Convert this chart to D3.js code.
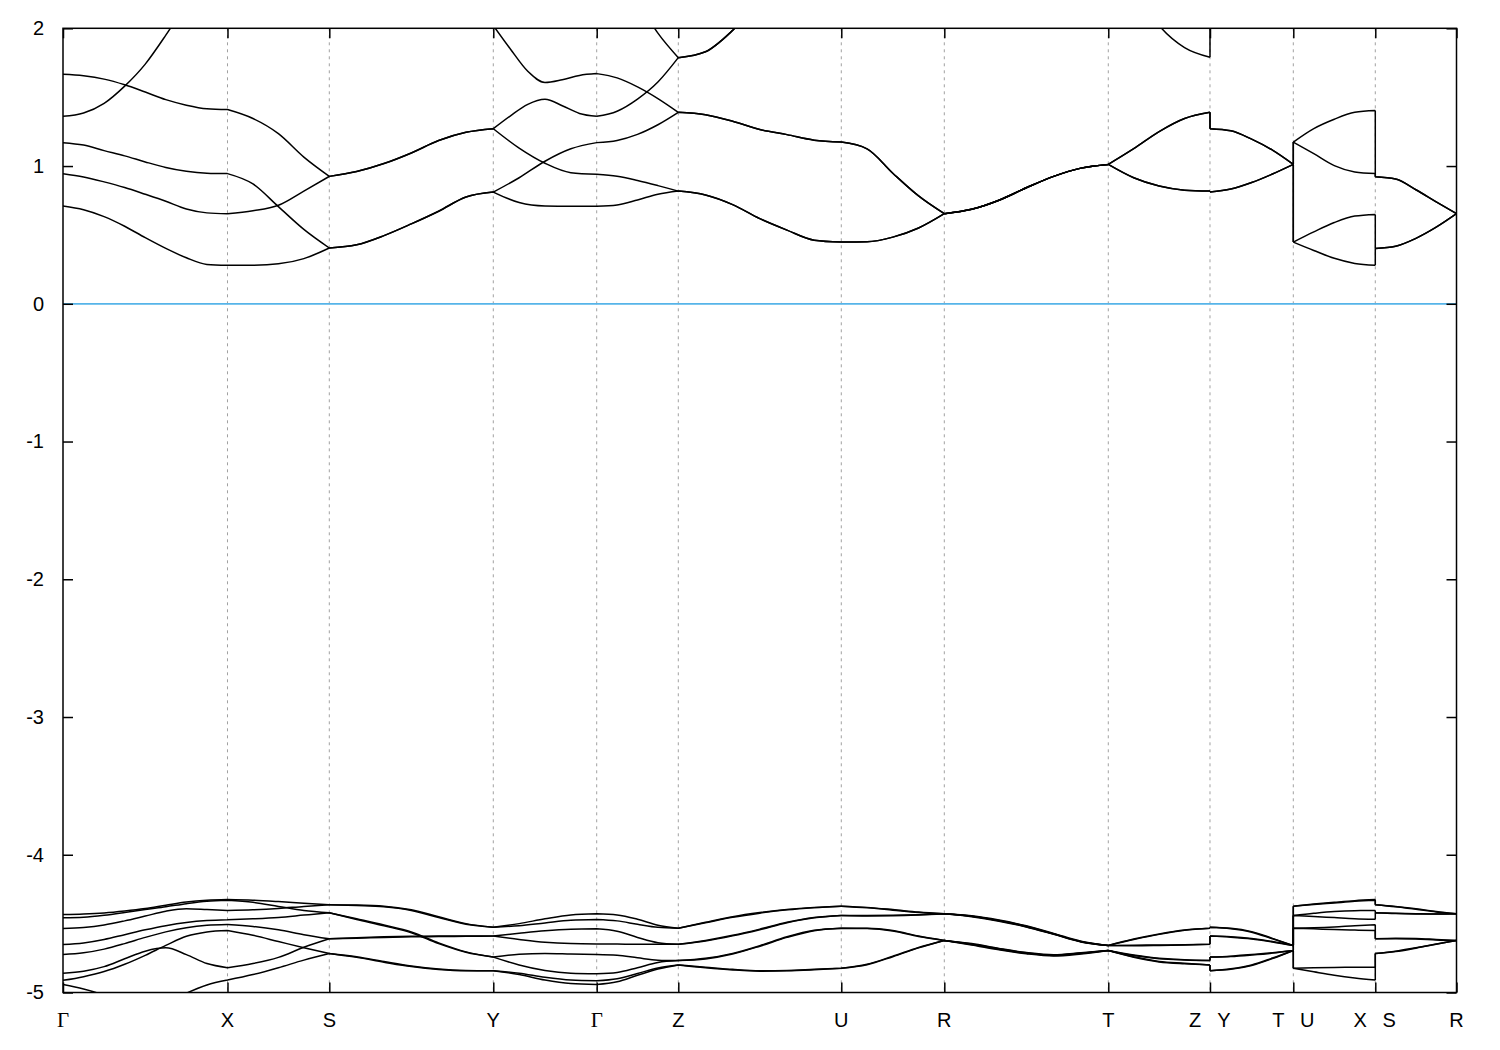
<!DOCTYPE html>
<html><head><meta charset="utf-8">
<script src="https://cdn.jsdelivr.net/npm/d3@7"></script>
<style>html,body{margin:0;padding:0;background:#fff;} svg{display:block;}</style>
</head><body>
<svg id="chart" width="1500" height="1050"></svg>
<script>
// high-symmetry points: cumulative k-path distance
const kTicks  = [0, 0.5483, 0.8877, 1.4343, 1.779, 2.051, 2.5943, 2.9377, 3.4843, 3.8233, 4.101, 4.3743, 4.645];
const kLabels = ["Γ","X","S","Y","Γ","Z","U","R","T","Z|Y","T|U","X|S","R"];
const yTicks  = [2, 1, 0, -1, -2, -3, -4, -5];
const eFermi  = 0;

// Each band: 12 path segments, energies (eV) sampled evenly along each segment
// segments: Γ-X, X-S, S-Y, Y-Γ, Γ-Z, Z-U, U-R, R-T, T-Z, Y-T, U-X, S-R
const c1 = [
 [0.710,0.683,0.633,0.563,0.480,0.402,0.334,0.286,0.279],
 [0.279,0.280,0.290,0.328,0.405],
 [0.405,0.428,0.495,0.580,0.672,0.775,0.811],
 [0.811,0.735,0.710,0.708,0.708],
 [0.708,0.718,0.754,0.795,0.818],
 [0.818,0.790,0.720,0.618,0.535,0.462,0.448],
 [0.448,0.450,0.484,0.550,0.654],
 [0.654,0.686,0.752,0.842,0.925,0.985,1.012],
 [1.012,0.915,0.855,0.825,0.818],
 [0.811,0.833,0.880,0.942,1.012],
 [0.448,0.387,0.330,0.293,0.279],
 [0.402,0.418,0.475,0.556,0.654]
];
const c2 = [
 [0.945,0.921,0.885,0.844,0.795,0.744,0.688,0.660,0.654],
 [0.654,0.675,0.715,0.818,0.925],
 [0.925,0.960,1.018,1.095,1.185,1.245,1.271],
 [1.271,1.130,1.020,0.952,0.940],
 [0.940,0.926,0.895,0.858,0.818],
 [0.818,0.790,0.720,0.618,0.535,0.462,0.448],
 [0.448,0.450,0.484,0.550,0.654],
 [0.654,0.686,0.752,0.842,0.925,0.985,1.012],
 [1.012,0.915,0.855,0.825,0.818],
 [0.811,0.833,0.880,0.942,1.012],
 [0.448,0.522,0.590,0.637,0.649],
 [0.402,0.418,0.475,0.556,0.654]
];
const c3 = [
 [1.170,1.152,1.112,1.074,1.030,0.990,0.962,0.948,0.945],
 [0.945,0.870,0.705,0.540,0.405],
 [0.405,0.428,0.495,0.580,0.672,0.775,0.811],
 [0.811,0.915,1.035,1.125,1.170],
 [1.170,1.186,1.230,1.300,1.390],
 [1.390,1.372,1.325,1.265,1.228,1.188,1.174],
 [1.174,1.125,0.948,0.783,0.654],
 [0.654,0.686,0.752,0.842,0.925,0.985,1.012],
 [1.012,1.126,1.250,1.345,1.390],
 [1.271,1.256,1.195,1.115,1.012],
 [1.174,1.090,1.003,0.957,0.945],
 [0.922,0.906,0.828,0.740,0.654]
];
const c4 = [
 [1.666,1.655,1.631,1.590,1.537,1.482,1.442,1.416,1.410],
 [1.410,1.345,1.235,1.065,0.925],
 [0.925,0.960,1.018,1.095,1.185,1.245,1.271],
 [1.271,1.365,1.448,1.485,1.438,1.382,1.361],
 [1.361,1.398,1.486,1.610,1.787],
 [1.787,1.830,1.985,2.200,null,null,null],
 [],[],[],[],[],[]
];
const c5 = [
 [1.361,1.385,1.455,1.580,1.740,1.950,2.180,null,null],
 [],
 [],
 [2.020,1.848,1.688,1.607,1.627,1.658,1.671],
 [1.671,1.640,1.575,1.490,1.390],
 [1.390,1.372,1.325,1.265,1.228,1.188,1.174],
 [1.174,1.125,0.948,0.783,0.654],
 [0.654,0.686,0.752,0.842,0.925,0.985,1.012],
 [1.012,1.126,1.250,1.345,1.390],
 [1.271,1.256,1.195,1.115,1.012],
 [1.174,1.272,1.340,1.390,1.404],
 [0.922,0.906,0.828,0.740,0.654]
];
const c6 = [
 [],[],[],[],
 [null,null,2.200,1.965,1.787],
 [1.787,1.830,1.985,2.200,null,null,null],
 [],[],
 [null,2.300,2.020,1.860,1.790],
 [2.300,null,null,null,null],
 [],[]
];
const v1 = [
 [-4.434,-4.430,-4.422,-4.408,-4.390,-4.366,-4.343,-4.330,-4.325],
 [-4.325,-4.330,-4.340,-4.352,-4.363],
 [-4.363,-4.365,-4.373,-4.400,-4.450,-4.500,-4.526],
 [-4.526,-4.500,-4.465,-4.437,-4.429],
 [-4.429,-4.437,-4.468,-4.512,-4.533],
 [-4.533,-4.490,-4.450,-4.420,-4.397,-4.382,-4.373],
 [-4.373,-4.382,-4.398,-4.416,-4.429],
 [-4.429,-4.446,-4.477,-4.519,-4.574,-4.630,-4.659],
 [-4.659,-4.612,-4.575,-4.546,-4.533],
 [-4.526,-4.533,-4.558,-4.607,-4.659],
 [-4.373,-4.358,-4.345,-4.333,-4.325],
 [-4.363,-4.375,-4.392,-4.412,-4.429]
];
const v2 = [
 [-4.458,-4.454,-4.440,-4.420,-4.398,-4.378,-4.355,-4.337,-4.330],
 [-4.330,-4.345,-4.375,-4.405,-4.421],
 [-4.421,-4.465,-4.510,-4.560,-4.640,-4.705,-4.743],
 [-4.743,-4.722,-4.716,-4.720,-4.724],
 [-4.724,-4.730,-4.748,-4.765,-4.768],
 [-4.768,-4.752,-4.716,-4.660,-4.595,-4.548,-4.533],
 [-4.533,-4.533,-4.550,-4.590,-4.622],
 [-4.622,-4.651,-4.686,-4.715,-4.731,-4.717,-4.695],
 [-4.695,-4.728,-4.752,-4.762,-4.768],
 [-4.743,-4.736,-4.725,-4.711,-4.695],
 [-4.533,-4.530,-4.524,-4.515,-4.508],
 [-4.610,-4.606,-4.608,-4.615,-4.622]
];
const v3 = [
 [-4.535,-4.528,-4.510,-4.480,-4.445,-4.410,-4.392,-4.398,-4.405],
 [-4.405,-4.400,-4.390,-4.375,-4.363],
 [-4.363,-4.369,-4.378,-4.405,-4.455,-4.504,-4.526],
 [-4.526,-4.515,-4.495,-4.476,-4.470],
 [-4.470,-4.480,-4.505,-4.527,-4.533],
 [-4.533,-4.494,-4.454,-4.424,-4.400,-4.384,-4.373],
 [-4.373,-4.385,-4.402,-4.419,-4.429],
 [-4.429,-4.450,-4.482,-4.524,-4.578,-4.633,-4.659],
 [-4.659,-4.616,-4.578,-4.548,-4.533],
 [-4.526,-4.537,-4.562,-4.610,-4.659],
 [-4.373,-4.362,-4.350,-4.338,-4.330],
 [-4.363,-4.378,-4.396,-4.415,-4.429]
];
const v4 = [
 [-4.652,-4.640,-4.615,-4.580,-4.545,-4.515,-4.492,-4.478,-4.472],
 [-4.472,-4.465,-4.455,-4.438,-4.421],
 [-4.421,-4.470,-4.516,-4.566,-4.645,-4.708,-4.743],
 [-4.743,-4.800,-4.840,-4.860,-4.864],
 [-4.864,-4.855,-4.820,-4.782,-4.768],
 [-4.768,-4.756,-4.720,-4.664,-4.600,-4.551,-4.533],
 [-4.533,-4.536,-4.554,-4.593,-4.622],
 [-4.622,-4.655,-4.690,-4.719,-4.735,-4.720,-4.695],
 [-4.695,-4.732,-4.755,-4.764,-4.768],
 [-4.743,-4.739,-4.728,-4.714,-4.695],
 [-4.533,-4.538,-4.543,-4.547,-4.550],
 [-4.610,-4.609,-4.611,-4.618,-4.622]
];
const v5 = [
 [-4.725,-4.712,-4.685,-4.645,-4.600,-4.560,-4.530,-4.512,-4.506],
 [-4.506,-4.520,-4.545,-4.580,-4.610],
 [-4.610,-4.606,-4.600,-4.596,-4.594,-4.592,-4.590],
 [-4.590,-4.570,-4.552,-4.541,-4.538],
 [-4.538,-4.555,-4.600,-4.638,-4.650],
 [-4.650,-4.622,-4.585,-4.540,-4.490,-4.455,-4.441],
 [-4.441,-4.441,-4.440,-4.436,-4.429],
 [-4.429,-4.443,-4.474,-4.516,-4.571,-4.628,-4.659],
 [-4.659,-4.657,-4.655,-4.653,-4.650],
 [-4.590,-4.595,-4.608,-4.630,-4.659],
 [-4.441,-4.425,-4.412,-4.406,-4.405],
 [-4.421,-4.425,-4.428,-4.430,-4.429]
];
const v6 = [
 [-4.860,-4.845,-4.812,-4.755,-4.700,-4.676,-4.725,-4.790,-4.820],
 [-4.820,-4.790,-4.745,-4.672,-4.610],
 [-4.610,-4.602,-4.596,-4.592,-4.590,-4.590,-4.590],
 [-4.590,-4.615,-4.636,-4.645,-4.647],
 [-4.647,-4.648,-4.650,-4.650,-4.650],
 [-4.650,-4.626,-4.589,-4.544,-4.494,-4.458,-4.441],
 [-4.441,-4.444,-4.443,-4.438,-4.429],
 [-4.429,-4.447,-4.480,-4.522,-4.576,-4.631,-4.659],
 [-4.659,-4.660,-4.658,-4.655,-4.650],
 [-4.590,-4.598,-4.611,-4.633,-4.659],
 [-4.441,-4.448,-4.456,-4.464,-4.468],
 [-4.421,-4.427,-4.430,-4.431,-4.429]
];
const v7 = [
 [-4.912,-4.885,-4.848,-4.795,-4.730,-4.658,-4.592,-4.560,-4.550],
 [-4.550,-4.585,-4.630,-4.675,-4.717],
 [-4.717,-4.740,-4.775,-4.808,-4.830,-4.840,-4.842],
 [-4.842,-4.860,-4.890,-4.910,-4.915],
 [-4.915,-4.900,-4.862,-4.822,-4.800],
 [-4.800,-4.816,-4.832,-4.842,-4.840,-4.832,-4.824],
 [-4.824,-4.795,-4.736,-4.673,-4.622],
 [-4.622,-4.648,-4.683,-4.712,-4.728,-4.714,-4.695],
 [-4.695,-4.740,-4.775,-4.788,-4.800],
 [-4.842,-4.828,-4.800,-4.750,-4.695],
 [-4.824,-4.820,-4.818,-4.817,-4.816],
 [-4.717,-4.700,-4.675,-4.648,-4.622]
];
const v8 = [
 [-4.942,-4.975,-5.020,-5.080,null,null,null,null,null],
 [],[],[],[],[],[],[],[],[],[],[]
];
const v9 = [
 [null,null,null,null,null,-5.080,-5.005,-4.945,-4.910],
 [-4.910,-4.870,-4.820,-4.765,-4.717],
 [-4.717,-4.745,-4.780,-4.812,-4.833,-4.842,-4.842],
 [-4.842,-4.870,-4.910,-4.935,-4.942],
 [-4.942,-4.922,-4.875,-4.830,-4.800],
 [-4.800,-4.820,-4.836,-4.845,-4.843,-4.835,-4.824],
 [-4.824,-4.798,-4.740,-4.676,-4.622],
 [-4.622,-4.645,-4.680,-4.710,-4.726,-4.712,-4.695],
 [-4.695,-4.744,-4.778,-4.792,-4.800],
 [-4.842,-4.832,-4.804,-4.754,-4.695],
 [-4.824,-4.850,-4.875,-4.895,-4.910],
 [-4.717,-4.703,-4.678,-4.650,-4.622]
];
const bands = [c1, c2, c3, c4, c5, c6, v1, v2, v3, v4, v5, v6, v7, v8, v9];

// ---------- drawing ----------
const W = 1500, H = 1050;
const margin = {left: 63, top: 28.3, right: 43.5, bottom: 57.5};
const svg = d3.select("#chart");
const x = d3.scaleLinear().domain([0, kTicks[kTicks.length - 1]]).range([margin.left, W - margin.right]);
const y = d3.scaleLinear().domain([-5, 2]).range([H - margin.bottom, margin.top]);
const sans = "'Liberation Sans', Arial, Helvetica, sans-serif";
const serif = "'Liberation Serif', 'Times New Roman', 'DejaVu Serif', serif";

svg.append("rect").attr("width", W).attr("height", H).attr("fill", "#fff");

svg.append("defs").append("clipPath").attr("id", "plotclip")
  .append("rect").attr("x", x.range()[0]).attr("y", y.range()[1])
  .attr("width", x.range()[1] - x.range()[0]).attr("height", y.range()[0] - y.range()[1]);

// dashed vertical grid at interior high-symmetry points
svg.append("g").selectAll("line").data(kTicks.slice(1, -1)).join("line")
  .attr("x1", d => x(d)).attr("x2", d => x(d))
  .attr("y1", y.range()[1]).attr("y2", y.range()[0])
  .attr("stroke", "#a0a0a0").attr("stroke-width", 1).attr("stroke-dasharray", "3,4");

// Fermi level line
svg.append("line")
  .attr("x1", x.range()[0]).attr("x2", x.range()[1])
  .attr("y1", y(eFermi)).attr("y2", y(eFermi))
  .attr("stroke", "#56b4e9").attr("stroke-width", 1.8);

// bands
const line = d3.line().defined(d => d[1] != null)
  .x(d => x(d[0])).y(d => y(d[1])).curve(d3.curveMonotoneX);
function bandPath(band) {
  let d = "";
  band.forEach((seg, s) => {
    if (seg.length < 2) return;
    const k0 = kTicks[s], k1 = kTicks[s + 1], n = seg.length;
    const pts = seg.map((e, i) => [k0 + (k1 - k0) * i / (n - 1), e]);
    const p = line(pts);
    if (p) d += p;
  });
  // vertical jumps at path discontinuities (Z|Y, T|U, X|S)
  [9, 10, 11].forEach(s => {
    const a = band[s - 1], b = band[s];
    if (a.length && b.length) {
      const ea = a[a.length - 1], eb = b[0];
      if (ea != null && eb != null && ea !== eb)
        d += `M${x(kTicks[s])},${y(ea)}L${x(kTicks[s])},${y(eb)}`;
    }
  });
  return d;
}
svg.append("g").attr("clip-path", "url(#plotclip)")
  .selectAll("path").data(bands).join("path")
  .attr("d", bandPath)
  .attr("fill", "none").attr("stroke", "#000").attr("stroke-width", 1.5)
  .attr("stroke-linejoin", "round");

// axes (gnuplot style: inward ticks on all four sides)
function styleAxis(g) {
  g.select(".domain").remove();
  g.selectAll(".tick line").attr("stroke", "#000").attr("stroke-width", 1.5);
}
svg.append("g").attr("transform", `translate(${x.range()[0]},0)`)
  .call(d3.axisLeft(y).tickValues(yTicks).tickSize(-10).tickSizeOuter(0).tickPadding(19).tickFormat(d => String(d)))
  .call(styleAxis)
  .call(g => g.selectAll("text").attr("font-family", sans).attr("font-size", 20).attr("fill", "#000"));
svg.append("g").attr("transform", `translate(${x.range()[1]},0)`)
  .call(d3.axisRight(y).tickValues(yTicks).tickSize(-10).tickSizeOuter(0).tickFormat(""))
  .call(styleAxis);
svg.append("g").attr("transform", `translate(0,${y.range()[1]})`)
  .call(d3.axisTop(x).tickValues(kTicks).tickSize(-10).tickSizeOuter(0).tickFormat(""))
  .call(styleAxis);
svg.append("g").attr("transform", `translate(0,${y.range()[0]})`)
  .call(d3.axisBottom(x).tickValues(kTicks).tickSize(-10).tickSizeOuter(0).tickFormat(""))
  .call(styleAxis);

// frame
svg.append("rect")
  .attr("x", x.range()[0]).attr("y", y.range()[1])
  .attr("width", x.range()[1] - x.range()[0]).attr("height", y.range()[0] - y.range()[1])
  .attr("fill", "none").attr("stroke", "#000").attr("stroke-width", 1.5);

// k-point labels
const labelItems = [];
kLabels.forEach((lab, i) => {
  const parts = lab.split("|");
  if (parts.length === 1) labelItems.push({t: lab, px: x(kTicks[i])});
  else {
    labelItems.push({t: parts[0], px: x(kTicks[i]) - 15});
    labelItems.push({t: parts[1], px: x(kTicks[i]) + 14});
  }
});
svg.append("g").selectAll("text").data(labelItems).join("text")
  .attr("x", d => d.px).attr("y", y.range()[0] + 34.5)
  .attr("text-anchor", "middle")
  .attr("font-family", d => d.t === "Γ" ? serif : sans)
  .attr("font-size", d => d.t === "Γ" ? 21 : 20)
  .attr("fill", "#000")
  .text(d => d.t);
</script>
</body></html>
